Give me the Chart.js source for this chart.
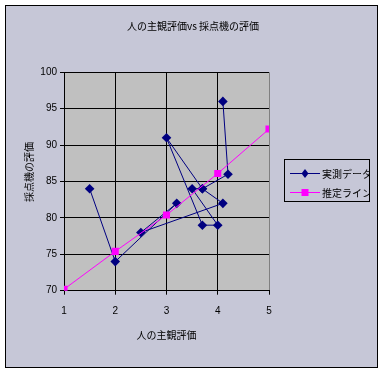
<!DOCTYPE html>
<html><head><meta charset="utf-8">
<script src="https://cdn.jsdelivr.net/npm/chart.js@4/dist/chart.umd.min.js"></script>
<style>html,body{margin:0;padding:0;background:#fff}canvas{display:block}</style>
</head><body>
<canvas id="c" width="384" height="373"></canvas>
<script>
const chartTitle = '人の主観評価vs 採点機の評価';
const xTitle = '人の主観評価';
const yTitle = '採点機の評価';
const xTickValues = [1, 2, 3, 4, 5];
const yTickValues = [70, 75, 80, 85, 90, 95, 100];
const measuredLabel = '実測データ';
const measuredX = [1.5, 2, 3.2, 2.5, 4.1, 3.7, 3.5, 4, 3.7, 3, 3.7, 4.2, 4.1];
const measuredY = [84, 74, 82, 78, 82, 84, 84, 79, 79, 91, 84, 86, 96];
const estimateLabel = '推定ライン';
const estimateX = [1, 2, 3, 4, 5];
const estimateY = [70.2, 75.4, 80.4, 86.1, 92.2];

const NAVY = '#000080', MAGENTA = '#FF00FF', BG = '#C6C7D7', PLOT = '#C0C0C0';
const CJK = "'Noto Sans CJK JP', sans-serif";
const LAT = "'Liberation Sans', Arial, sans-serif";

const toPts = (xs, ys) => xs.map((x, i) => ({x, y: ys[i]}));

const frame = {
  id: 'frame',
  beforeDraw(chart) {
    const ctx = chart.ctx, a = chart.chartArea;
    ctx.save();
    ctx.fillStyle = '#fff';
    ctx.fillRect(0, 0, chart.width, chart.height);
    ctx.fillStyle = BG;
    ctx.fillRect(5, 5, 373, 363);
    ctx.strokeStyle = '#000';
    ctx.lineWidth = 1;
    ctx.strokeRect(5.5, 5.5, 372, 362);
    ctx.fillStyle = PLOT;
    ctx.fillRect(a.left, a.top, a.right - a.left, a.bottom - a.top);
    ctx.restore();
  },
  afterDraw(chart) {
    const ctx = chart.ctx;
    // chart title
    ctx.save();
    ctx.fillStyle = '#000';
    ctx.font = '10px ' + CJK;
    ctx.textAlign = 'center';
    ctx.textBaseline = 'middle';
    ctx.fillText(chartTitle, 193, 26);
    ctx.restore();

    // y axis title
    ctx.save();
    ctx.translate(29, 172);
    ctx.rotate(-Math.PI / 2);
    ctx.fillStyle = '#000';
    ctx.font = '10px ' + CJK;
    ctx.textAlign = 'center';
    ctx.textBaseline = 'middle';
    ctx.fillText(yTitle, 0, 0);
    ctx.restore();

    // legend
    ctx.save();
    const bx = 284.5, by = 159.5, bw = 85, bh = 42;
    ctx.fillStyle = BG;
    ctx.fillRect(bx, by, bw, bh);
    ctx.strokeStyle = '#000';
    ctx.lineWidth = 1;
    ctx.strokeRect(bx, by, bw, bh);
    ctx.beginPath();
    ctx.rect(bx, by, bw, bh);
    ctx.clip();
    const rows = [
      {label: chart.data.datasets[1].label, color: NAVY, style: 'diamond', y: 173},
      {label: chart.data.datasets[0].label, color: MAGENTA, style: 'square', y: 192}
    ];
    rows.forEach(r => {
      ctx.strokeStyle = r.color;
      ctx.beginPath();
      ctx.moveTo(290, r.y + 0.5);
      ctx.lineTo(320, r.y + 0.5);
      ctx.stroke();
      ctx.fillStyle = r.color;
      ctx.beginPath();
      if (r.style === 'diamond') {
        ctx.moveTo(305, r.y - 4); ctx.lineTo(308.5, r.y + 0.5);
        ctx.lineTo(305, r.y + 5); ctx.lineTo(301.5, r.y + 0.5); ctx.closePath();
      } else {
        ctx.rect(301.5, r.y - 3, 7, 7);
      }
      ctx.fill();
      ctx.fillStyle = '#000';
      ctx.font = '10px ' + CJK;
      ctx.textAlign = 'left';
      ctx.textBaseline = 'middle';
      ctx.fillText(r.label, 322, r.y + 1);
    });
    ctx.restore();
  }
};

new Chart(document.getElementById('c'), {
  type: 'scatter',
  data: {
    datasets: [
      {
        label: estimateLabel,
        data: toPts(estimateX, estimateY),
        showLine: true,
        borderColor: MAGENTA,
        backgroundColor: MAGENTA,
        borderWidth: 1,
        pointStyle: 'rect',
        pointRadius: 5,
        pointBorderWidth: 0,
        tension: 0,
        order: 0
      },
      {
        label: measuredLabel,
        data: toPts(measuredX, measuredY),
        showLine: true,
        borderColor: NAVY,
        backgroundColor: NAVY,
        borderWidth: 1,
        pointStyle: 'rectRot',
        pointRadius: 4.8,
        pointBorderWidth: 0,
        tension: 0,
        order: 1
      }
    ]
  },
  options: {
    responsive: false,
    animation: false,
    layout: {padding: {top: 72.3, left: 0, right: 115, bottom: 0}},
    plugins: {
      legend: {display: false},
      tooltip: {enabled: false},
      title: {display: false}
    },
    scales: {
      x: {
        type: 'linear',
        min: xTickValues[0],
        max: xTickValues[xTickValues.length - 1],
        afterBuildTicks: s => { s.ticks = xTickValues.map(v => ({value: v})); },
        afterFit: s => { s.height = 82.3; },
        ticks: {color: '#000', font: {family: LAT, size: 10}, padding: 11, maxRotation: 0},
        grid: {
          color: c => (c.tick && c.tick.value === 5) ? '#808080' : '#000',
          tickColor: '#000',
          tickLength: 4,
          lineWidth: 1
        },
        border: {color: '#000', width: 1},
        title: {
          display: true,
          text: xTitle,
          color: '#000',
          font: {family: CJK, size: 10, lineHeight: 1.2},
          padding: {top: 0, bottom: 31.5}
        }
      },
      y: {
        type: 'linear',
        min: yTickValues[0],
        max: yTickValues[yTickValues.length - 1],
        afterBuildTicks: s => { s.ticks = yTickValues.map(v => ({value: v})); },
        afterFit: s => { s.width = 64; },
        ticks: {color: '#000', font: {family: LAT, size: 10}, padding: 3},
        grid: {color: '#000', tickColor: '#000', tickLength: 4, lineWidth: 1},
        border: {color: '#000', width: 1}
      }
    }
  },
  plugins: [frame]
});
</script>
</body></html>
